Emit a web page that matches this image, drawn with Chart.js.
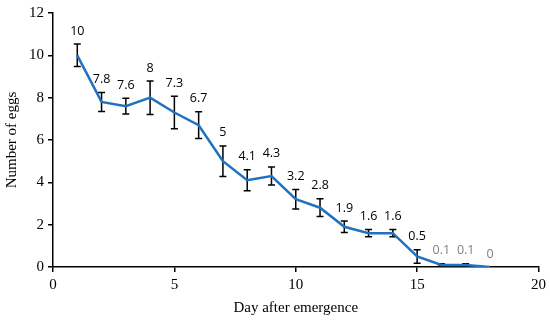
<!DOCTYPE html>
<html>
<head>
<meta charset="utf-8">
<script src="https://cdn.jsdelivr.net/npm/chart.js@4/dist/chart.umd.min.js"></script>
<style>
  html, body { margin: 0; padding: 0; background: #fff; }
  #wrap { width: 550px; height: 320px; }
</style>
</head>
<body>
<div id="wrap"><canvas id="chart" width="550" height="320"></canvas></div>
<script>
var days = [1, 2, 3, 4, 5, 6, 7, 8, 9, 10, 11, 12, 13, 14, 15, 16, 17, 18];
var eggs = [10, 7.8, 7.6, 8, 7.3, 6.7, 5, 4.1, 4.3, 3.2, 2.8, 1.9, 1.6, 1.6, 0.5, 0.1, 0.1, 0];
var errors = [0.53, 0.45, 0.37, 0.79, 0.77, 0.63, 0.72, 0.5, 0.43, 0.46, 0.42, 0.27, 0.17, 0.17, 0.32, 0.05, 0.05, 0];
var labels = ["10", "7.8", "7.6", "8", "7.3", "6.7", "5", "4.1", "4.3", "3.2", "2.8", "1.9", "1.6", "1.6", "0.5", "0.1", "0.1", "0"];
var labelColors = ["#000", "#000", "#000", "#000", "#000", "#000", "#000", "#000", "#000", "#000", "#000", "#000", "#000", "#000", "#000", "#808080", "#808080", "#808080"];

var points = days.map((d, i) => ({ x: d, y: eggs[i] }));

// error bars under the line
var errorBars = {
  id: 'errorBars',
  beforeDatasetsDraw(chart) {
    var ctx = chart.ctx, xs = chart.scales.x, ys = chart.scales.y;
    ctx.save();
    ctx.strokeStyle = '#000';
    ctx.lineWidth = 1.5;
    days.forEach((d, i) => {
      if (!errors[i]) return;
      var px = xs.getPixelForValue(d);
      var top = ys.getPixelForValue(eggs[i] + errors[i]);
      var bot = ys.getPixelForValue(Math.max(0, eggs[i] - errors[i]));
      ctx.beginPath();
      ctx.moveTo(px, top); ctx.lineTo(px, bot);
      ctx.moveTo(px - 3.5, top); ctx.lineTo(px + 3.5, top);
      ctx.moveTo(px - 3.5, bot); ctx.lineTo(px + 3.5, bot);
      ctx.stroke();
    });
    ctx.restore();
  }
};

// value labels above each point
var valueLabels = {
  id: 'valueLabels',
  afterDatasetsDraw(chart) {
    var ctx = chart.ctx, xs = chart.scales.x, ys = chart.scales.y;
    ctx.save();
    ctx.font = '12.5px "Open Sans"';
    ctx.textAlign = 'center';
    ctx.textBaseline = 'middle';
    days.forEach((d, i) => {
      var px = xs.getPixelForValue(d);
      var py = ys.getPixelForValue(eggs[i] + errors[i]) - 13;
      ctx.fillStyle = labelColors[i];
      ctx.fillText(labels[i], px, py);
    });
    ctx.restore();
  }
};

var serif = { family: '"Liberation Serif", "Times New Roman", serif', size: 15 };

new Chart(document.getElementById('chart'), {
  type: 'scatter',
  data: {
    datasets: [{
      data: points,
      showLine: true,
      borderColor: '#2171c1',
      borderWidth: 2.5,
      pointRadius: 0,
      tension: 0
    }]
  },
  options: {
    responsive: false,
    animation: false,
    layout: { padding: { top: 4, right: 6, left: 0, bottom: 0 } },
    plugins: { legend: { display: false }, tooltip: { enabled: false } },
    scales: {
      x: {
        type: 'linear', min: 0, max: 20,
        ticks: { stepSize: 5, color: '#000', font: serif, padding: 4 },
        grid: { drawOnChartArea: false, drawTicks: true, tickLength: 5, color: '#000', lineWidth: 1.5 },
        border: { color: '#000', width: 1.5 },
        title: { display: true, text: 'Day after emergence', color: '#000', font: serif, padding: { top: 1, bottom: 3 } }
      },
      y: {
        min: 0, max: 12,
        ticks: { stepSize: 2, color: '#000', font: serif, padding: 4 },
        grid: { drawOnChartArea: false, drawTicks: true, tickLength: 5, color: '#000', lineWidth: 1.5 },
        border: { color: '#000', width: 1.5 },
        title: { display: true, text: 'Number of eggs', color: '#000', font: serif, padding: { top: 3, bottom: 4 } }
      }
    }
  },
  plugins: [errorBars, valueLabels]
});
</script>
</body>
</html>
